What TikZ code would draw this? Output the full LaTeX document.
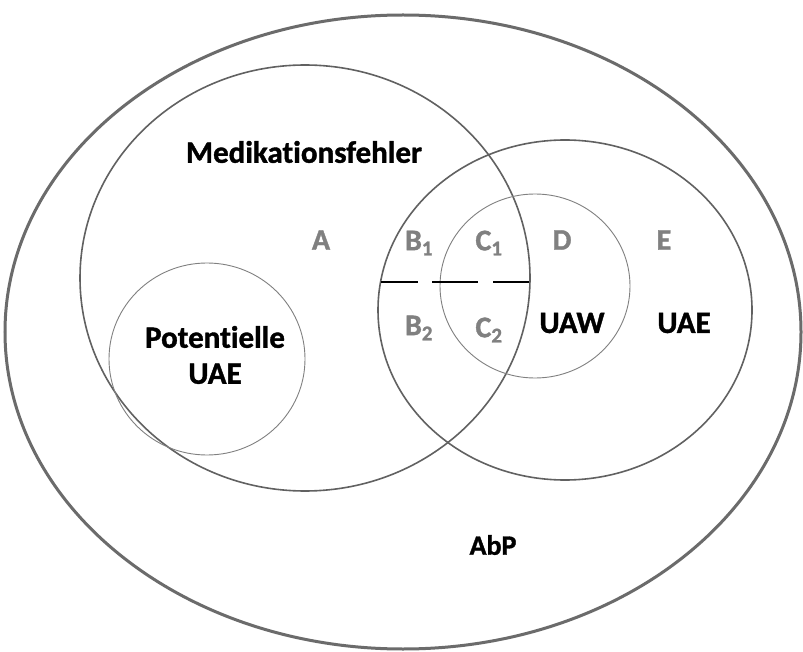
\documentclass[tikz,border=0pt]{standalone}
\usepackage{fontspec}
\setmainfont{Carlito}[Ligatures=CommonOff, BoldFeatures={FakeBold=1.2}]
\begin{document}
\begin{tikzpicture}[x=1pt,y=-1pt,
  lab/.style={font=\fontsize{31}{36}\selectfont\bfseries, text=black, align=center},
  glab/.style={font=\fontsize{30}{34}\selectfont\bfseries, text=black!50},
  thick1/.style={draw=black!58, line width=3pt},
  mid/.style={draw=black!62, line width=1.6pt},
  thin1/.style={draw=black!50, line width=0.9pt},
  sep/.style={draw=black, line width=2pt}]
\useasboundingbox (0,0) rectangle (803,652);
\fill[white] (0,0) rectangle (803,652);
\draw[thick1] (403,332) ellipse [x radius=398, y radius=317];
\draw[mid] (305,278) ellipse [x radius=225, y radius=213];
\draw[mid] (565,310) ellipse [x radius=187, y radius=170];
\draw[thin1] (535,286) ellipse [x radius=95, y radius=92];
\draw[thin1] (207,359) ellipse [x radius=98, y radius=96];
\coordinate (s1a) at (381,282); \coordinate (s1b) at (418,282);
\coordinate (s2a) at (432,282); \coordinate (s2b) at (478,282);
\coordinate (s3a) at (493,282); \coordinate (s3b) at (529,282);
\draw[sep] (s1a) -- (s1b);
\draw[sep] (s2a) -- (s2b);
\draw[sep] (s3a) -- (s3b);
\node[lab] (mf) at (304,152) {Medikationsfehler};
\node[lab] (pu) at (215,355) {Potentielle\\UAE};
\node[lab] (uaw) at (572,323) {UAW};
\node[lab] (uae) at (684,323) {UAE};
\node[lab, font=\fontsize{28}{32}\selectfont\bfseries] (abp) at (493,545) {AbP};
\node[glab] (a) at (321,240) {A};
\node[glab] (b1) at (419,243) {B\textsubscript{1}};
\node[glab] (c1) at (489,243) {C\textsubscript{1}};
\node[glab] (d) at (562,240) {D};
\node[glab] (e) at (664,240) {E};
\node[glab] (b2) at (419,328) {B\textsubscript{2}};
\node[glab] (c2) at (489,330) {C\textsubscript{2}};
\end{tikzpicture}
\end{document}
